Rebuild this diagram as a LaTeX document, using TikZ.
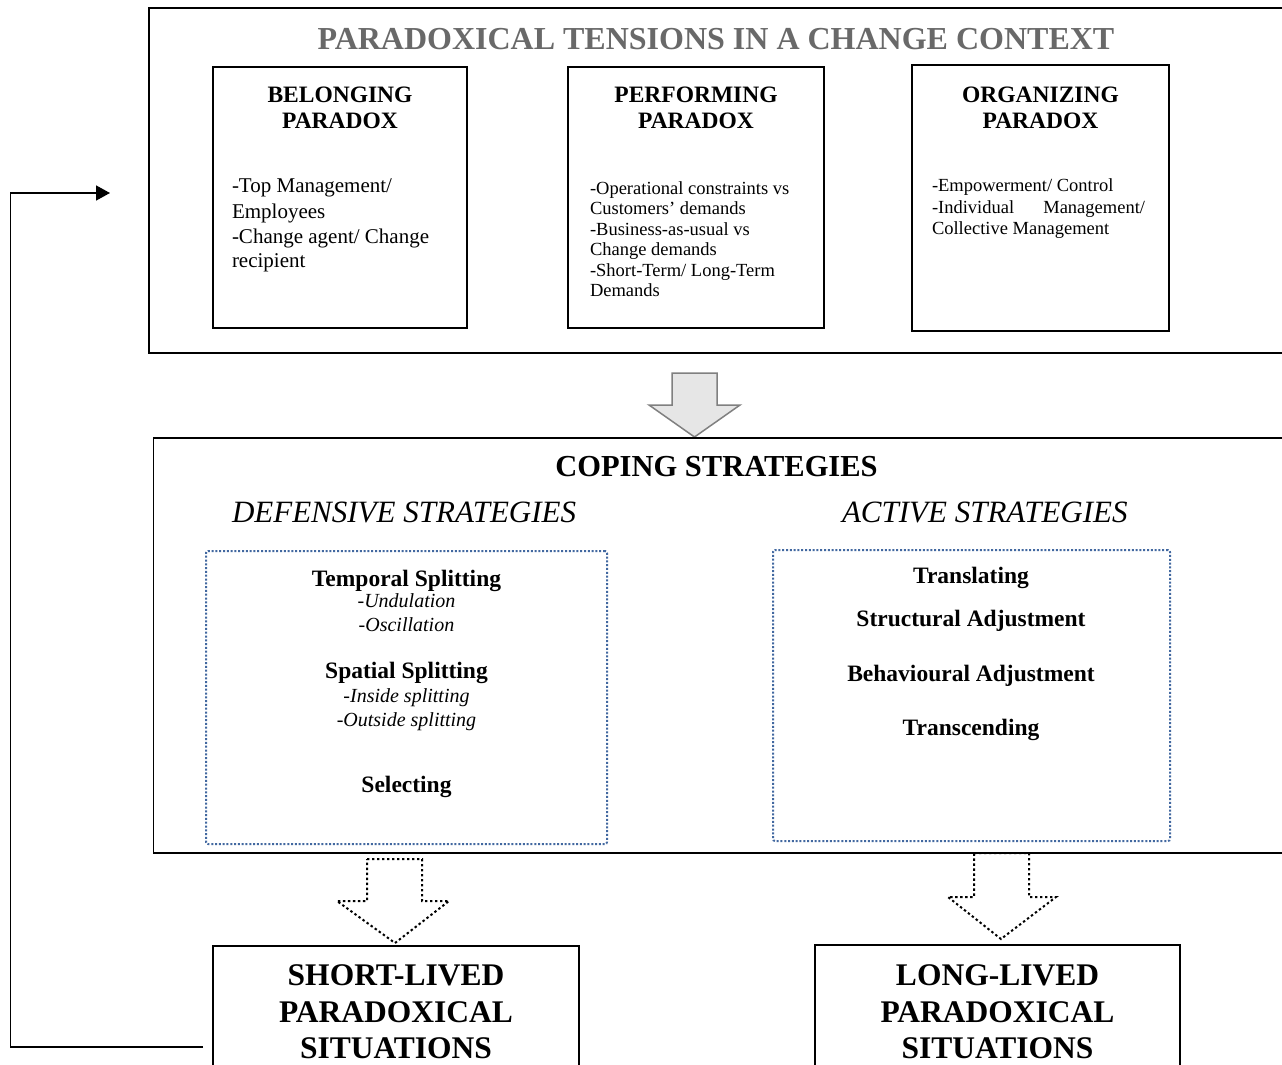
\documentclass[tikz,border=0pt]{standalone}
\usepackage{fontspec}
\setmainfont{Liberation Serif}
\usetikzlibrary{arrows.meta}
\definecolor{titlegray}{RGB}{105,105,105}
\definecolor{dotblue}{RGB}{66,104,160}
\definecolor{arrfill}{RGB}{230,230,230}
\definecolor{arrdraw}{RGB}{128,128,128}
\newcommand\setfs[1]{\fontsize{#1}{#1}\selectfont}
\begin{document}
\begin{tikzpicture}[x=1pt,y=-1pt,
  txt/.style={inner sep=0pt, outer sep=0pt},
  ttl/.style={txt, anchor=base, text=titlegray, font=\setfs{32}\bfseries},
  hd/.style={txt, anchor=base, font=\setfs{23.5}\bfseries},
  bA/.style={txt, anchor=base west, font=\setfs{21}},
  bB/.style={txt, anchor=base west, font=\setfs{18.5}},
  big/.style={txt, anchor=base, font=\setfs{30.5}\bfseries},
  itl/.style={txt, anchor=base west, font=\setfs{31}\itshape},
  itm/.style={txt, anchor=base, font=\setfs{23.5}\bfseries},
  sub/.style={txt, anchor=base, font=\setfs{20}\itshape},
  fin/.style={txt, anchor=base, font=\setfs{31.5}\bfseries},
  box/.style={draw, line width=1.5pt, inner sep=0pt, outer sep=0pt},
  dbox/.style={draw=dotblue, line width=2pt, dash pattern=on 2pt off 1.8pt, inner sep=0pt, rounded corners=2pt},
  dotarrow/.style={draw=black, line width=2pt, dash pattern=on 2.4pt off 2.6pt},
  grayarrow/.style={draw=arrdraw, fill=arrfill, line width=1.5pt},
  fb/.style={line width=1.5pt}
]
\useasboundingbox (0,0) rectangle (1282,1065);
\fill[white] (0,0) rectangle (1282,1065);

% ---------- top outer box ----------
\node[box, minimum width=1141pt, minimum height=345pt] (top) at (719.5,180.5) {};
\node[ttl] (toptitle) at (716,50) {PARADOXICAL TENSIONS IN A CHANGE CONTEXT};

\node[box, minimum width=254pt, minimum height=261pt] (belong) at (340,197.5) {};
\node[box, minimum width=256pt, minimum height=261pt] (perform) at (696,197.5) {};
\node[box, minimum width=257pt, minimum height=266pt] (organ) at (1040.5,198) {};

\node[hd] (bh1) at (340,102) {BELONGING};
\node[hd] (bh2) at (340,128) {PARADOX};
\node[bA] (bl1) at (232,192) {-Top Management/};
\node[bA] (bl2) at (232,218) {Employees};
\node[bA] (bl3) at (232,243) {-Change agent/ Change};
\node[bA] (bl4) at (232,267) {recipient};

\node[hd] (ph1) at (696,102) {PERFORMING};
\node[hd] (ph2) at (696,128) {PARADOX};
\node[bB] (pl1) at (590,194) {-Operational constraints vs};
\node[bB] (pl2) at (590,214.5) {Customers’ demands};
\node[bB] (pl3) at (590,235) {-Business-as-usual vs};
\node[bB] (pl4) at (590,255.5) {Change demands};
\node[bB] (pl5) at (590,276) {-Short-Term/ Long-Term};
\node[bB] (pl6) at (590,296.5) {Demands};

\node[hd] (oh1) at (1040.5,102) {ORGANIZING};
\node[hd] (oh2) at (1040.5,128) {PARADOX};
\node[bB] (ol1) at (932,191) {-Empowerment/ Control};
\node[bB] (ol2) at (932,213) {\makebox[213pt][s]{-Individual Management/}};
\node[bB] (ol3) at (932,234) {Collective Management};

% ---------- gray arrow ----------
\path[grayarrow] (672,373) -- (717,373) -- (717,405) -- (740,405) -- (694.5,437)
  -- (649,405) -- (672,405) -- cycle;

% ---------- coping box ----------
\node[box, minimum width=1136.5pt, minimum height=415pt] (coping) at (721.75,645.5) {};
\node[big] (coptitle) at (716.5,476) {COPING STRATEGIES};
\node[itl] (deft) at (232,522) {DEFENSIVE STRATEGIES};
\node[itl] (actt) at (842,522) {ACTIVE STRATEGIES};

\node[dbox, minimum width=401pt, minimum height=293pt] (defbox) at (406.5,697.5) {};
\node[dbox, minimum width=397pt, minimum height=291pt] (actbox) at (971.5,695.5) {};

\node[itm] (d1) at (406.5,586) {Temporal Splitting};
\node[sub] (d2) at (406.5,607) {-Undulation};
\node[sub] (d3) at (406.5,631) {-Oscillation};
\node[itm] (d4) at (406.5,678) {Spatial Splitting};
\node[sub] (d5) at (406.5,702) {-Inside splitting};
\node[sub] (d6) at (406.5,726) {-Outside splitting};
\node[itm] (d7) at (406.5,792) {Selecting};

\node[itm] (a1) at (971,583) {Translating};
\node[itm] (a2) at (971,626) {Structural Adjustment};
\node[itm] (a3) at (971,681) {Behavioural Adjustment};
\node[itm] (a4) at (971,735) {Transcending};

% ---------- dotted arrows ----------
\path[dotarrow] (367,859) -- (422,859) -- (422,901) -- (449,901) -- (395,943)
  -- (337,901) -- (367,901) -- cycle;
\path[dotarrow] (974,853) -- (1029,853) -- (1029,897) -- (1056,897) -- (1001,939)
  -- (948,897) -- (974,897) -- cycle;

% ---------- bottom boxes ----------
\node[box, minimum width=366pt, minimum height=134pt] (short) at (396,1013) {};
\node[box, minimum width=365pt, minimum height=135pt] (long) at (997.5,1012.5) {};
\node[fin] (s1) at (396,985.5) {SHORT-LIVED};
\node[fin] (s2) at (396,1022) {PARADOXICAL};
\node[fin] (s3) at (396,1058) {SITUATIONS};
\node[fin] (l1) at (997.5,985.5) {LONG-LIVED};
\node[fin] (l2) at (997.5,1022) {PARADOXICAL};
\node[fin] (l3) at (997.5,1058) {SITUATIONS};

% ---------- feedback connector ----------
\coordinate (fbstart) at ([xshift=-10pt]short.west |- 0,1047);
\coordinate (fbcorner) at (10.5,1047);
\coordinate (fbend) at ([xshift=-39pt]top.west |- 0,193);
\draw[fb, -{Triangle[length=14pt,width=15pt]}] (fbstart) -- (fbcorner) |- (fbend);
\end{tikzpicture}
\end{document}
